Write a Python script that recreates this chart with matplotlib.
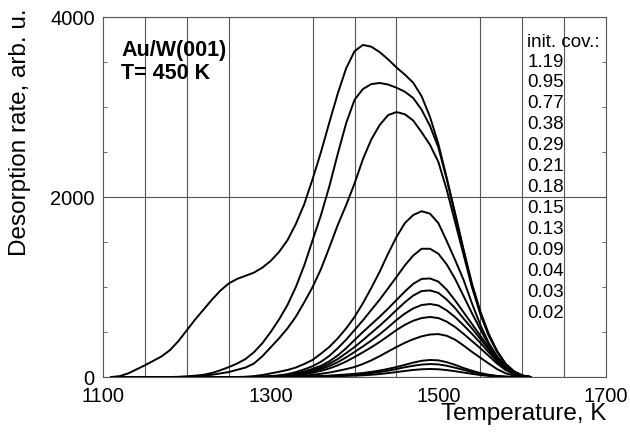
import matplotlib.pyplot as plt
from matplotlib.ticker import FixedLocator, MultipleLocator

plt.rcParams['font.family'] = ['Liberation Sans', 'DejaVu Sans']

# initial coverages (legend column)
coverages = ['1.19', '0.95', '0.77', '0.38', '0.29', '0.21', '0.18',
             '0.15', '0.13', '0.09', '0.04', '0.03', '0.02']

# temperature grid, K (values read every 10 K off the figure)
temps = list(range(1110, 1620, 10))

# desorption rate, arb. u.
r_119 = [0, 10, 40, 85, 130, 180, 230, 300, 400, 520,
         640, 750, 860, 960, 1040, 1090, 1125, 1160, 1215, 1290,
         1390, 1520, 1700, 1920, 2200, 2500, 2830, 3150, 3430, 3620,
         3690, 3670, 3610, 3530, 3440, 3360, 3270, 3120, 2890, 2590,
         2210, 1820, 1420, 1040, 730, 480, 290, 150, 65, 18, 0]
r_095 = [0] * 8 + [2, 8, 15, 25, 45, 75, 110, 150, 200, 275,
                   375, 500, 640, 800, 1000, 1240, 1520, 1800, 2120, 2480,
                   2820, 3080, 3200, 3255, 3267, 3250, 3215, 3170, 3100, 2970,
                   2790, 2550, 2200, 1800, 1400, 1020, 715, 470, 285, 145,
                   62, 16, 0]
r_077 = [0] * 9 + [2, 8, 15, 25, 40, 55, 80, 105, 150, 230,
                   330, 430, 540, 670, 830, 1000, 1200, 1440, 1690, 1910,
                   2150, 2420, 2640, 2800, 2910, 2944, 2920, 2850, 2720, 2580,
                   2390, 2080, 1720, 1360, 1000, 700, 460, 280, 140, 60,
                   15, 0]
r_038 = [0] * 16 + [3, 10, 22, 40, 58, 78, 105, 145, 190, 260,
                    335, 430, 540, 667, 820, 990, 1170, 1370, 1555, 1710,
                    1800, 1842, 1815, 1710, 1510, 1300, 1080, 820, 580, 380,
                    230, 120, 50, 12, 0]
r_029 = [0] * 18 + [3, 10, 18, 32, 55, 85, 120, 170, 235, 320,
                    415, 522, 630, 745, 860, 985, 1111, 1240, 1350, 1425,
                    1425, 1370, 1250, 1090, 900, 710, 530, 360, 220, 115,
                    48, 12, 0]
r_021 = [0] * 18 + [2, 8, 14, 24, 40, 62, 90, 125, 175, 240,
                    320, 411, 500, 585, 670, 760, 855, 950, 1035, 1090,
                    1095, 1060, 970, 850, 720, 590, 460, 330, 205, 105,
                    44, 10, 0]
r_018 = [0] * 18 + [1, 6, 12, 20, 33, 52, 75, 105, 148, 200,
                    265, 333, 410, 490, 570, 655, 744, 830, 905, 955,
                    962, 935, 860, 765, 650, 540, 425, 305, 190, 98,
                    40, 9, 0]
r_015 = [0] * 19 + [4, 9, 16, 27, 42, 62, 88, 122, 165, 218,
                    278, 340, 405, 475, 552, 633, 705, 762, 800, 811,
                    795, 740, 665, 575, 480, 380, 275, 175, 90, 37,
                    9, 0]
r_013 = [0] * 19 + [3, 7, 12, 20, 32, 48, 68, 95, 130, 172,
                    222, 275, 330, 390, 455, 522, 580, 625, 655, 667,
                    655, 615, 555, 480, 400, 320, 235, 150, 78, 32,
                    8, 0]
r_009 = [0] * 20 + [2, 5, 10, 16, 25, 36, 50, 68, 88, 111,
                    145, 185, 232, 283, 333, 380, 420, 452, 472, 477,
                    458, 415, 350, 280, 215, 150, 88, 42, 16, 4,
                    0]
r_004 = [0] * 22 + [1, 4, 7, 10, 15, 22, 28, 35, 45, 57,
                    72, 90, 111, 135, 160, 180, 189, 185, 165, 135,
                    100, 70, 44, 25, 12, 4, 0, 0, 0]
r_003 = [0] * 22 + [1, 3, 5, 8, 12, 16, 20, 25, 33, 43,
                    55, 70, 89, 108, 125, 138, 144, 140, 125, 103,
                    80, 55, 35, 20, 10, 3, 0, 0, 0]
r_002 = [0] * 22 + [0, 2, 3, 5, 7, 10, 12, 15, 19, 25,
                    33, 43, 55, 67, 78, 86, 89, 86, 77, 64,
                    50, 35, 22, 12, 6, 2, 0, 0, 0]

curves = [r_119, r_095, r_077, r_038, r_029, r_021, r_018,
          r_015, r_013, r_009, r_004, r_003, r_002]

fig = plt.figure(figsize=(6.3, 4.32), dpi=100)
ax = fig.add_axes([0.1635, 0.1273, 0.7985, 0.8333])

for r in curves:
    ax.plot(temps, r, color='black', lw=1.4, solid_joinstyle='round')

ax.set_xlim(1100, 1700)
ax.set_ylim(0, 4000)
ax.xaxis.set_major_locator(FixedLocator([1100, 1300, 1500, 1700]))
ax.xaxis.set_minor_locator(MultipleLocator(50))
ax.yaxis.set_major_locator(MultipleLocator(2000))
ax.yaxis.set_minor_locator(MultipleLocator(500))
ax.grid(True, which='minor', axis='x', color='#555555', lw=0.8)
ax.grid(True, which='major', axis='y', color='#555555', lw=0.8)
ax.set_axisbelow(True)
ax.tick_params(which='both', direction='in', left=True, right=True, top=False,
               labelsize=14.5, color='#555555')
ax.tick_params(axis='x', pad=7)
ax.tick_params(axis='y', pad=6)
ax.tick_params(which='major', length=0)
ax.tick_params(which='minor', axis='y', length=3)
ax.tick_params(which='minor', axis='x', length=0)
for s in ax.spines.values():
    s.set_color('#555555')
    s.set_linewidth(0.8)

ax.set_xlabel('Temperature, K', fontsize=17.5, loc='right', labelpad=-2)
ax.set_ylabel('Desorption rate, arb. u.', fontsize=17.5)
ax.yaxis.set_label_coords(-0.143, 0.68)

ax.text(1122, 3633, 'Au/W(001)', fontsize=15.5, fontweight='bold', va='center')
ax.text(1122, 3367, 'T= 450 K', fontsize=15.5, fontweight='bold', va='center')

ax.text(1606, 3722, 'init. cov.:', fontsize=13.5, va='center')
for i, c in enumerate(coverages):
    ax.text(1606, 3500 - i * 233, c, fontsize=13.5, va='center')

fig.savefig('out.png', dpi=100)
